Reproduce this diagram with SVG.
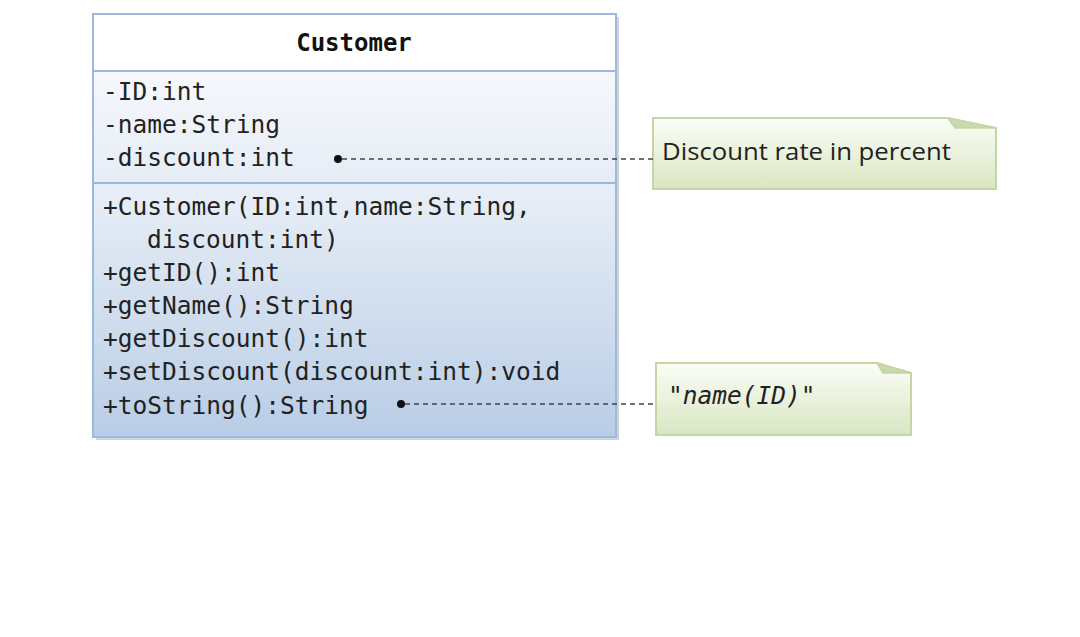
<svg xmlns="http://www.w3.org/2000/svg" width="1080" height="637" viewBox="0 0 1080 637">
<defs>
<linearGradient id="gAttr" x1="0" y1="0" x2="0" y2="1"><stop offset="0" stop-color="#f6f8fc"/><stop offset="1" stop-color="#e6edf6"/></linearGradient>
<linearGradient id="gMeth" x1="0" y1="0" x2="0" y2="1"><stop offset="0" stop-color="#e9eff7"/><stop offset="1" stop-color="#b9cde6"/></linearGradient>
<linearGradient id="gNote" x1="0" y1="0" x2="0" y2="1"><stop offset="0" stop-color="#fbfdf7"/><stop offset="1" stop-color="#d9e6c2"/></linearGradient>
</defs>
<style>
.box{stroke:#9cb8dc;stroke-width:2}
.mono{font-family:"DejaVu Sans Mono","Liberation Mono",monospace;font-size:24.5px;fill:#222}
.title{font-family:"DejaVu Sans Mono","Liberation Mono",monospace;font-size:24px;font-weight:bold;fill:#111}
.note{fill:url(#gNote);stroke:#c3d6a3;stroke-width:2}
.fold{fill:#c9d9ad;stroke:#c3d6a3;stroke-width:1.5}
.ntext{font-family:"Open Sans","Liberation Sans",sans-serif;font-size:23px;fill:#222}
.conn{stroke:#444;stroke-width:1.3;stroke-dasharray:5,4;fill:none}
.shadow{fill:#d0d4da}
</style>
<rect width="1080" height="637" fill="#ffffff"/>
<g id="customer">
<rect class="shadow" x="96" y="17" width="523" height="423"/>
<rect x="93" y="14" width="523" height="57" fill="#ffffff" class="box"/>
<rect x="93" y="71" width="523" height="112" fill="url(#gAttr)" class="box"/>
<rect x="93" y="183" width="523" height="254" fill="url(#gMeth)" class="box"/>
<text class="title" x="354" y="51" text-anchor="middle">Customer</text>
<text class="mono" x="103" y="100">-ID:int</text>
<text class="mono" x="103" y="133">-name:String</text>
<text class="mono" x="103" y="166">-discount:int</text>
<text class="mono" x="103" y="215">+Customer(ID:int,name:String,</text>
<text class="mono" x="147" y="248">discount:int)</text>
<text class="mono" x="103" y="281">+getID():int</text>
<text class="mono" x="103" y="314">+getName():String</text>
<text class="mono" x="103" y="347">+getDiscount():int</text>
<text class="mono" x="103" y="380">+setDiscount(discount:int):void</text>
<text class="mono" x="103" y="414">+toString():String</text>
</g>
<g id="note1">
<path class="note" d="M653,118 H948 L996,128 V189 H653 Z"/>
<path class="fold" d="M948,118 L955,128 H996 Z"/>
<text class="ntext" x="662" y="160" textLength="289" lengthAdjust="spacingAndGlyphs">Discount rate in percent</text>
</g>
<g id="note2">
<path class="note" d="M656,363 H877 L911,373 V435 H656 Z"/>
<path class="fold" d="M877,363 L883,373 H911 Z"/>
<text class="mono" x="668" y="404" font-style="italic" font-size="24px">"name(ID)"</text>
</g>
<g id="connectors">
<circle cx="338" cy="159" r="4" fill="#111"/>
<line class="conn" x1="342" y1="159" x2="653" y2="159"/>
<circle cx="401" cy="404" r="4" fill="#111"/>
<line class="conn" x1="405" y1="404" x2="656" y2="404"/>
</g>
</svg>
